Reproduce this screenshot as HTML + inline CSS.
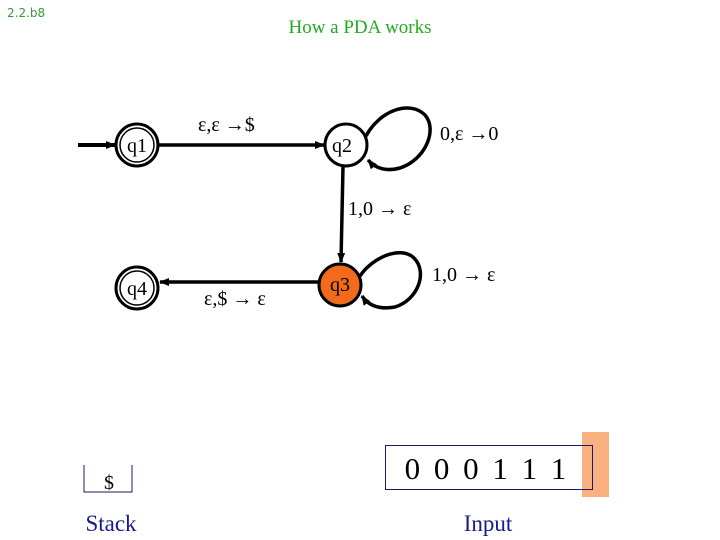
<!DOCTYPE html>
<html><head><meta charset="utf-8"><style>
html,body{margin:0;padding:0;background:#fff;}
svg{display:block;}
</style></head><body>
<svg width="720" height="540" viewBox="0 0 720 540" xmlns="http://www.w3.org/2000/svg">
<defs>
<marker id="ah" markerWidth="10" markerHeight="10" refX="9" refY="5" orient="auto" markerUnits="userSpaceOnUse">
<path d="M0,1 L10,5 L0,9 Z" fill="#000"/>
</marker>
</defs>
<text x="7" y="17" font-family="DejaVu Sans, sans-serif" font-size="12" fill="#3a9a3a">2.2.b8</text>
<text x="360" y="33" text-anchor="middle" font-family="Liberation Serif, serif" font-size="19" fill="#22aa22">How a PDA works</text>

<line x1="78" y1="145" x2="115" y2="145" stroke="#000" stroke-width="4" marker-end="url(#ah)"/>
<circle cx="137" cy="145" r="21" fill="#fff" stroke="#000" stroke-width="3"/>
<circle cx="137" cy="145" r="17" fill="none" stroke="#000" stroke-width="1.5"/>
<text x="137" y="152" text-anchor="middle" font-family="Liberation Serif, serif" font-size="20">q1</text>
<line x1="158" y1="145" x2="324" y2="145" stroke="#000" stroke-width="3.5" marker-end="url(#ah)"/>
<text x="198" y="131" font-family="Liberation Serif, serif" font-size="20">ε,ε →$</text>
<circle cx="346" cy="145" r="21" fill="#fff" stroke="#000" stroke-width="3"/>
<text x="342" y="152" text-anchor="middle" font-family="Liberation Serif, serif" font-size="20">q2</text>
<path d="M366,136 C380,110 410,100 425,115 C438,130 425,160 400,168 C385,172 375,168 368,160" fill="none" stroke="#000" stroke-width="3.5" marker-end="url(#ah)"/>
<text x="440" y="140" font-family="Liberation Serif, serif" font-size="20">0,ε →0</text>
<line x1="343" y1="166" x2="341" y2="262" stroke="#000" stroke-width="3.5" marker-end="url(#ah)"/>
<text x="348" y="215" font-family="Liberation Serif, serif" font-size="20">1,0 → ε</text>
<circle cx="340" cy="285" r="21" fill="#f26a1b" stroke="#000" stroke-width="3"/>
<text x="340" y="291" text-anchor="middle" font-family="Liberation Serif, serif" font-size="20">q3</text>
<path d="M360,276 C372,258 400,245 414,258 C428,272 418,300 395,307 C378,310 368,305 362,296" fill="none" stroke="#000" stroke-width="3.5" marker-end="url(#ah)"/>
<text x="432" y="281" font-family="Liberation Serif, serif" font-size="20">1,0 → ε</text>
<line x1="318" y1="282" x2="160" y2="282" stroke="#000" stroke-width="3.5" marker-end="url(#ah)"/>
<text x="204" y="305" font-family="Liberation Serif, serif" font-size="20">ε,$ → ε</text>
<circle cx="137" cy="288" r="21" fill="#fff" stroke="#000" stroke-width="3"/>
<circle cx="137" cy="288" r="17" fill="none" stroke="#000" stroke-width="1.5"/>
<text x="137" y="295" text-anchor="middle" font-family="Liberation Serif, serif" font-size="20">q4</text>

<path d="M84,465 V492 H132 V465" fill="none" stroke="#1a1a6a" stroke-width="1"/>
<text x="109" y="489" text-anchor="middle" font-family="Liberation Serif, serif" font-size="20">$</text>
<text x="111" y="531" text-anchor="middle" font-family="Liberation Serif, serif" font-size="23" fill="#1a1a8a">Stack</text>

<rect x="582" y="432" width="27" height="65" fill="#fbb07f"/>
<rect x="385.5" y="445.5" width="207" height="44" fill="none" stroke="#1a1a6a" stroke-width="1"/>
<text x="487" y="479" text-anchor="middle" font-family="Liberation Serif, serif" font-size="31" letter-spacing="3">0 0 0 1 1 1</text>
<text x="488" y="531" text-anchor="middle" font-family="Liberation Serif, serif" font-size="23" fill="#1a1a8a">Input</text>
</svg>
</body></html>
